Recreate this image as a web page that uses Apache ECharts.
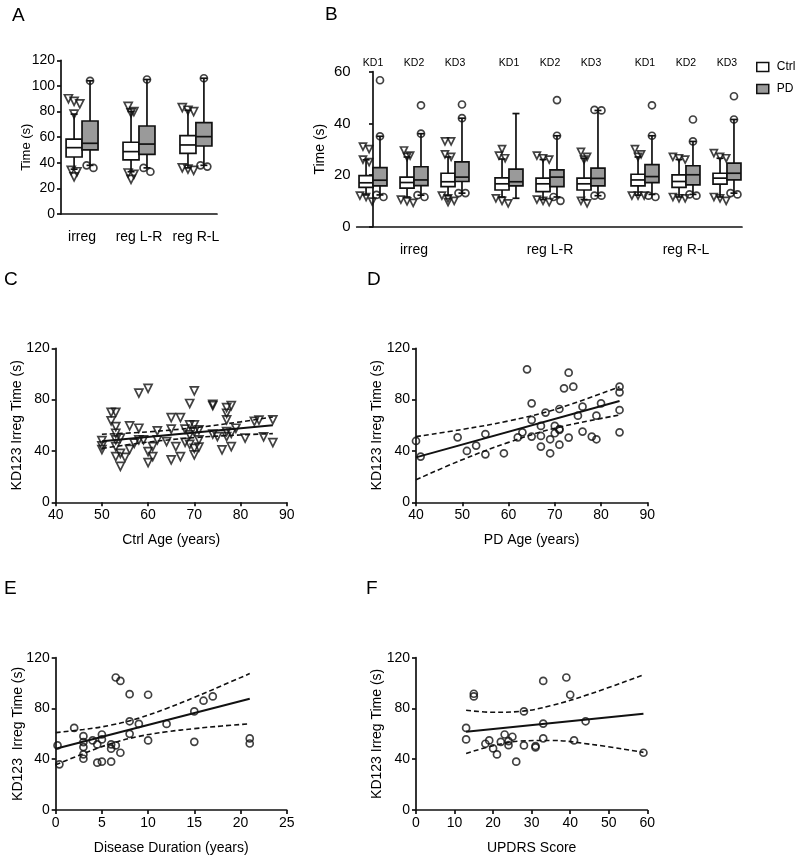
<!DOCTYPE html>
<html><head><meta charset="utf-8">
<script src="https://cdn.jsdelivr.net/npm/echarts@6/dist/echarts.min.js"></script>
<style>html,body{margin:0;padding:0;background:#fff}#c{width:796px;height:856px}</style>
</head><body><div id="c"></div>
<script>
// ---------------- DATA ----------------
// Panel A: [whiskerLow, q1, median, q3, whiskerHigh]
const catA = ['irreg', 'reg L-R', 'reg R-L'];
const aCtrlBox = [[35, 44.5, 51.8, 58.5, 78], [33, 42.2, 48.7, 56, 80], [36, 47.4, 53.9, 61.2, 81]];
const aPdBox = [[38, 50, 55.2, 72.6, 104], [36, 46.6, 54.6, 68.7, 105], [38, 53.1, 60.4, 71.3, 106]];
const aCtrlOut = [[90, 88, 86, 78, 34, 33, 29], [84, 80, 79, 32, 31, 27], [83, 81, 80, 36, 35, 34]];
const aPdOut = [[104, 36, 38], [105, 33, 36], [106, 37, 38]];

// Panel B: groups x KD tests (irreg KD1..3, reg L-R KD1..3, reg R-L KD1..3)
const groupsB = ['irreg', 'reg L-R', 'reg R-L'];
const kdB = ['KD1', 'KD2', 'KD3'];
const bCtrlBox = [
  [12.3, 15.2, 17, 19.8, 25.9], [11.5, 14.9, 17.1, 19.2, 27], [12, 15.5, 17.4, 20.7, 27],
  [11.5, 14.2, 16.6, 18.9, 26.2], [10.5, 13.6, 16.6, 18.8, 26], [10.5, 14.2, 16.6, 18.8, 26.5],
  [12.2, 15.8, 18.1, 20.3, 27], [11.5, 15.2, 17.5, 20.1, 26], [11.5, 16.5, 18.8, 20.7, 26.5]
];
const bPdBox = [
  [12.3, 15.8, 18, 22.9, 35], [12.2, 15.9, 18.1, 23.2, 36], [13, 17.5, 19.2, 25.1, 42],
  [11, 15.8, 17.4, 22.3, 43.8], [11.5, 15.5, 19.2, 22, 35.2], [12, 15.8, 18.7, 22.7, 45],
  [12.5, 17.1, 19.4, 24, 35.2], [12.5, 16.2, 20.1, 23.6, 33], [13, 18.1, 20.7, 24.6, 41.5]
];
const bCtrlOut = [
  [31, 30, 26, 25, 12, 11.5, 9.7], [29.5, 27.5, 27, 10.5, 9.8, 9.2], [33, 33, 28, 27, 12, 11, 10, 9.5],
  [30, 27.5, 26.5, 11, 10, 9], [27.5, 26.5, 26, 10.5, 10, 9.5], [29, 27, 26, 10, 9],
  [30, 28, 27, 12, 12, 12], [27, 26.5, 26, 11.5, 11, 11], [28.5, 27, 26.5, 11.5, 11, 10]
];
const bPdOut = [
  [56.7, 35, 12.3, 11.5], [47, 36, 12.2, 11.5], [47.3, 42, 13, 13],
  [], [49, 35.2, 11.5, 10], [45.2, 45, 12, 12],
  [47, 35.2, 12, 11.5], [41.5, 33, 12.5, 12], [50.5, 41.5, 13, 12.5]
];

// Panel C: [Ctrl age, KD123 irreg time]
const ctrlAgeTime = [[50,48],[50,44],[50,41],[52,70],[52,63.4],[53,70],[53,59],[53,53.8],[53,48.6],[53,43.4],[53,35.6],
  [54,50],[54,38.2],[54,28],[55,35],[56,59.5],[56,41.3],[57,46],[58,57.7],[58,85],[58,48.6],[59,48.6],[60,88.8],[60,39.5],[60,30.9],
  [61,35.6],[61,43.4],[62,55.6],[62,48.6],[64,47.3],[65,66],[65,57],[65,33],[66,43.4],[67,66],[67,35.6],[68,57],[68,46.8],
  [69,77],[69,60.3],[69,52.5],[69,45.2],[70,86.8],[70,60.3],[70,55],[70,42],[70,37],[71,56.4],[71,48.6],[71,43],
  [74,76.4],[74,75.3],[74,53.2],[75,51.2],[76,40.8],[77,73.8],[77,69.4],[77,64.2],[77,55],[77,51.2],[78,75.3],[78,53.8],[78,43.4],
  [79,57.7],[81,50],[83,63],[84,64],[85,51],[87,64.2],[87,46.5]];
const regC = [[50, 47.5], [87, 60]];
const ciCUp = [[50, 53], [60, 54.9], [70, 58.1], [80, 62.7], [87, 66.5]];
const ciCLo = [[50, 42], [60, 46.9], [70, 50.4], [80, 52.5], [87, 53.5]];

// Panel D: [PD age, KD123 irreg time]
const pdAgeTime = [[40,47.8],[41,35.6],[49,50.6],[51,40],[53,44.2],[55,53.2],[55,37.4],[59,38.2],[62,50.6],[63,54.5],[64,103.6],
  [65,77.1],[65,64.2],[65,51.2],[67,59.5],[67,51.7],[67,43.4],[68,69.9],[69,49.1],[69,38.2],[70,59.5],[70,53.8],
  [71,72.7],[71,57.1],[71,56.4],[71,44.9],[72,88.8],[73,101],[73,50.4],[74,90.1],[75,67.5],[76,74.5],[76,55.1],
  [78,51.2],[79,67.5],[79,49.1],[80,77.1],[84,90.1],[84,85.7],[84,71.9],[84,54.5]];
const regD = [[40, 35], [84, 79]];
const ciDUp = [[40, 51.2], [50, 56.8], [60, 63.4], [70, 72.3], [84, 90]];
const ciDLo = [[40, 17.5], [50, 33.2], [60, 46.7], [70, 57.7], [84, 68]];

// Panel E: [disease duration, KD123 irreg time]
const durTime = [[0.2,50.9],[0.4,36],[2,64.7],[3,58.2],[3,53.5],[3,49.6],[3,43.8],[3,40.4],[4,54.8],[4.5,51.7],[4.5,37.3],
  [5,59.5],[5,55.6],[5,38.1],[6,51.7],[6,48.3],[6,38.1],[6.5,104.4],[6.5,50.9],[7,101.7],[7,45.1],[8,91.3],[8,69.9],[8,60],
  [9,67.8],[10,90.8],[10,54.8],[12,67.8],[15,77.7],[15,53.7],[16,86.1],[17,89.5],[21,56.4],[21,52.4]];
const regE = [[0, 48.3], [21, 87.7]];
const ciEUp = [[0, 61], [3, 63.4], [6, 66.9], [9, 72.4], [12, 80], [15, 88.7], [18, 98], [21, 107.5]];
const ciELo = [[0, 35.6], [3, 44.4], [6, 52.3], [9, 58], [12, 61.6], [15, 64.1], [18, 66.2], [21, 67.9]];

// Panel F: [UPDRS score, KD123 irreg time]
const updrsTime = [[13,64.7],[13,55.6],[15,91.6],[15,89.5],[18,52.2],[19,54.8],[20,48.5],[21,43.8],[22,53.7],[23,59.5],
  [24,54.3],[24,51.1],[25,57.7],[26,38.1],[28,77.7],[28,50.9],[31,50.4],[31,49.3],[33,101.7],[33,68.1],[33,56.4],
  [39,104.4],[40,90.8],[41,54.8],[44,69.9],[59,45.1]];
const regF = [[13, 61.6], [59, 75.9]];
const ciFUp = [[13, 78.6], [20, 77], [27, 77.7], [35, 82.2], [45, 91.3], [59, 106.4]];
const ciFLo = [[13, 44.6], [20, 50.6], [27, 54.3], [35, 54.8], [45, 51.9], [59, 45.4]];

// ---------------- STYLE / LAYOUT ----------------
const INK = '#111';
const GRAY = '#9a9a9a';
const CLEAR = 'rgba(255,255,255,0)';
const FONT = "'Liberation Sans', Arial, Helvetica, sans-serif";
const A_OFF = 0.14, B_OFF = 0.17, B_GAP = 0.317;
const posB = i => Math.floor(i / 3) * (3 + B_GAP) + (i % 3);
const kdPos = bCtrlBox.map((_, i) => posB(i));
const groupPos = groupsB.map((_, g) => posB(g * 3 + 1));

function spreadOutliers(vals, med, thr, step) {
  const res = [];
  [vals.filter(v => v > med).sort((a, b) => b - a), vals.filter(v => v <= med).sort((a, b) => b - a)].forEach(side => {
    let i = 0;
    while (i < side.length) {
      let j = i;
      while (j + 1 < side.length && side[i] - side[j + 1] < thr) j++;
      const n = j - i + 1;
      for (let k = 0; k < n; k++) res.push([(k - (n - 1) / 2) * step, side[i + k]]);
      i = j + 1;
    }
  });
  return res;
}

function boxRenderer(hw, cap, fill) {
  return function (params, api) {
    const x = api.value(0);
    const p = i => api.coord([x, api.value(i)]);
    const lo = p(1), q1 = p(2), md = p(3), q3 = p(4), hi = p(5);
    const cx = lo[0];
    const ls = { stroke: INK, lineWidth: 1.7 };
    return {
      type: 'group', children: [
        { type: 'line', shape: { x1: cx, y1: hi[1], x2: cx, y2: lo[1] }, style: ls },
        { type: 'line', shape: { x1: cx - cap, y1: hi[1], x2: cx + cap, y2: hi[1] }, style: ls },
        { type: 'line', shape: { x1: cx - cap, y1: lo[1], x2: cx + cap, y2: lo[1] }, style: ls },
        { type: 'rect', shape: { x: cx - hw, y: q3[1], width: 2 * hw, height: q1[1] - q3[1] }, style: { fill: fill, stroke: INK, lineWidth: 1.7 } },
        { type: 'line', shape: { x1: cx - hw, y1: md[1], x2: cx + hw, y2: md[1] }, style: ls }
      ]
    };
  };
}

const lineAx = { show: true, lineStyle: { color: INK, width: 1.7 } };
const tickAx = { show: true, length: 4, lineStyle: { color: INK, width: 1.7 } };
const lbl = (fs, margin, extra) => Object.assign({ color: '#000', fontFamily: FONT, fontSize: fs, margin: margin }, extra || {});
const nameStyle = (fs, extra) => Object.assign({ color: '#000', fontFamily: FONT, fontSize: fs }, extra || {});

function yAx(grid, max, interval, name, gap, fs, nfs, extraName) {
  return {
    type: 'value', gridIndex: grid, min: 0, max: max, interval: interval,
    name: name, nameLocation: 'middle', nameGap: gap, nameRotate: 90, nameMoveOverlap: false,
    nameTextStyle: nameStyle(nfs, extraName),
    axisLine: lineAx, axisTick: tickAx, splitLine: { show: false },
    axisLabel: lbl(fs, 6)
  };
}
function xAx(grid, min, max, interval, name) {
  return {
    type: 'value', gridIndex: grid, min: min, max: max, interval: interval,
    name: name, nameLocation: 'middle', nameGap: 31, nameMoveOverlap: false, nameTextStyle: nameStyle(14),
    axisLine: lineAx, axisTick: tickAx, splitLine: { show: false },
    axisLabel: lbl(14, 6)
  };
}

const sym = (shape, size) => ({
  symbol: shape, symbolSize: size, symbolRotate: shape === 'triangle' ? 180 : 0,
  itemStyle: { color: CLEAR, borderColor: INK, borderWidth: 1.7 }, emphasis: { disabled: true }
});

const series = [];
// Panel A
series.push({ type: 'custom', name: 'A Ctrl', xAxisIndex: 0, yAxisIndex: 0, renderItem: boxRenderer(8, 3.5, '#fff'),
  data: aCtrlBox.map((b, i) => [i + 1 - A_OFF, ...b]), encode: { x: 0, y: [1, 2, 3, 4, 5] }, z: 2 });
series.push({ type: 'custom', name: 'A PD', xAxisIndex: 0, yAxisIndex: 0, renderItem: boxRenderer(8, 3.5, GRAY),
  data: aPdBox.map((b, i) => [i + 1 + A_OFF, ...b]), encode: { x: 0, y: [1, 2, 3, 4, 5] }, z: 2 });
series.push(Object.assign({ type: 'scatter', name: 'A Ctrl pts', xAxisIndex: 0, yAxisIndex: 0, z: 3,
  data: aCtrlOut.flatMap((v, i) => spreadOutliers(v, aCtrlBox[i][2], 5, 0.1).map(([dx, y]) => [i + 1 - A_OFF + dx, y])) }, sym('triangle', 8)));
series.push(Object.assign({ type: 'scatter', name: 'A PD pts', xAxisIndex: 0, yAxisIndex: 0, z: 3,
  data: aPdOut.flatMap((v, i) => spreadOutliers(v, aPdBox[i][2], 5, 0.12).map(([dx, y]) => [i + 1 + A_OFF + dx, y])) }, sym('circle', 7)));
// Panel B
series.push({ type: 'custom', name: 'Ctrl', xAxisIndex: 1, yAxisIndex: 1, renderItem: boxRenderer(7, 3.5, '#fff'), itemStyle: { color: '#fff' },
  data: bCtrlBox.map((b, i) => [kdPos[i] - B_OFF, ...b]), encode: { x: 0, y: [1, 2, 3, 4, 5] }, z: 2 });
series.push({ type: 'custom', name: 'PD', xAxisIndex: 1, yAxisIndex: 1, renderItem: boxRenderer(7, 3.5, GRAY), itemStyle: { color: GRAY },
  data: bPdBox.map((b, i) => [kdPos[i] + B_OFF, ...b]), encode: { x: 0, y: [1, 2, 3, 4, 5] }, z: 2 });
series.push(Object.assign({ type: 'scatter', name: 'B Ctrl pts', xAxisIndex: 1, yAxisIndex: 1, z: 3,
  data: bCtrlOut.flatMap((v, i) => spreadOutliers(v, bCtrlBox[i][2], 2.5, 0.15).map(([dx, y]) => [kdPos[i] - B_OFF + dx, y])) }, sym('triangle', 7)));
series.push(Object.assign({ type: 'scatter', name: 'B PD pts', xAxisIndex: 1, yAxisIndex: 1, z: 3,
  data: bPdOut.flatMap((v, i) => spreadOutliers(v, bPdBox[i][2], 2.5, 0.17).map(([dx, y]) => [kdPos[i] + B_OFF + dx, y])) }, sym('circle', 7)));

// Scatter panels C-F
function regPanel(xi, yi, pts, shape, size, reg, up, lo) {
  series.push(Object.assign({ type: 'scatter', xAxisIndex: xi, yAxisIndex: yi, data: pts, z: 3 }, sym(shape, size)));
  series.push({ type: 'line', xAxisIndex: xi, yAxisIndex: yi, data: reg, showSymbol: false, symbol: 'none', z: 4,
    lineStyle: { color: INK, width: 2 }, emphasis: { disabled: true } });
  [up, lo].forEach(d => series.push({ type: 'line', xAxisIndex: xi, yAxisIndex: yi, data: d, showSymbol: false, symbol: 'none', smooth: 0.4, z: 4,
    lineStyle: { color: INK, width: 1.6, type: [5, 3] }, emphasis: { disabled: true } }));
}
regPanel(3, 2, ctrlAgeTime, 'triangle', 8, regC, ciCUp, ciCLo);
regPanel(4, 3, pdAgeTime, 'circle', 7, regD, ciDUp, ciDLo);
regPanel(5, 4, durTime, 'circle', 7, regE, ciEUp, ciELo);
regPanel(6, 5, updrsTime, 'circle', 7, regF, ciFUp, ciFLo);

const nearest = (arr, v) => arr.reduce((bi, p, i) => Math.abs(p - v) < Math.abs(arr[bi] - v) ? i : bi, 0);

const letter = (t, left, top) => ({ text: t, left: left, top: top, textStyle: { fontFamily: FONT, fontSize: 19, fontWeight: 'normal', color: '#000' } });

const option = {
  animation: false,
  backgroundColor: '#fff',
  title: [letter('A', 7, 1), letter('B', 320, 0), letter('C', -1, 265), letter('D', 362, 265), letter('E', -1, 574), letter('F', 361, 574)],
  legend: {
    show: true, orient: 'vertical', left: 751, top: 56, itemWidth: 12, itemHeight: 9, itemGap: 10, icon: 'rect', selectedMode: false,
    data: [
      { name: 'Ctrl', itemStyle: { color: '#fff', borderColor: INK, borderWidth: 1.5 } },
      { name: 'PD', itemStyle: { color: GRAY, borderColor: INK, borderWidth: 1.5 } }
    ],
    textStyle: { fontFamily: FONT, fontSize: 12, color: '#000', padding: [0, 0, 0, 3] }
  },
  grid: [
    { left: 61, top: 60.3, width: 156, height: 153.7 },
    { left: 356.7, top: 71.7, width: 385.3, height: 155 },
    { left: 55.7, top: 348.3, width: 231, height: 154 },
    { left: 416, top: 348.3, width: 231.3, height: 154 },
    { left: 55.7, top: 657.7, width: 231, height: 153.3 },
    { left: 416, top: 657.7, width: 231.3, height: 153.3 }
  ],
  xAxis: [
    { type: 'value', gridIndex: 0, min: 0.63, max: 3.37, axisLine: lineAx, axisTick: { show: false }, splitLine: { show: false },
      axisLabel: lbl(14, 16, { customValues: [1, 2, 3], formatter: v => catA[Math.round(v) - 1] || '' }) },
    { type: 'value', gridIndex: 1, min: -0.398, max: 9.0, axisLine: lineAx, axisTick: { show: false }, splitLine: { show: false },
      axisLabel: lbl(14, 16, { customValues: groupPos, formatter: v => groupsB[nearest(groupPos, v)] }) },
    { type: 'value', gridIndex: 1, position: 'top', min: -0.398, max: 9.0, axisLine: { show: false }, axisTick: { show: false }, splitLine: { show: false },
      axisLabel: lbl(10.5, 3, { customValues: kdPos, formatter: v => kdB[nearest(kdPos, v) % 3] }) },
    xAx(2, 40, 90, 10, 'Ctrl Age (years)'),
    xAx(3, 40, 90, 10, 'PD Age (years)'),
    xAx(4, 0, 25, 5, 'Disease Duration (years)'),
    xAx(5, 0, 60, 10, 'UPDRS Score')
  ],
  yAxis: [
    yAx(0, 120, 20, 'Time (s)', 28, 14, 13, { padding: [0, 20, 0, 0] }),
    yAx(1, 60, 20, 'Time (s)', 30, 15, 14),
    yAx(2, 120, 40, 'KD123 Irreg Time (s)', 32, 14, 14),
    yAx(3, 120, 40, 'KD123 Irreg Time (s)', 32, 14, 14),
    yAx(4, 120, 40, 'KD123  Irreg Time (s)', 31, 14, 14),
    yAx(5, 120, 40, 'KD123 Irreg Time (s)', 32, 14, 14)
  ],
  series: series
};

const chart = echarts.init(document.getElementById('c'), null, { renderer: 'canvas' });
chart.setOption(option);
</script>
</body></html>
